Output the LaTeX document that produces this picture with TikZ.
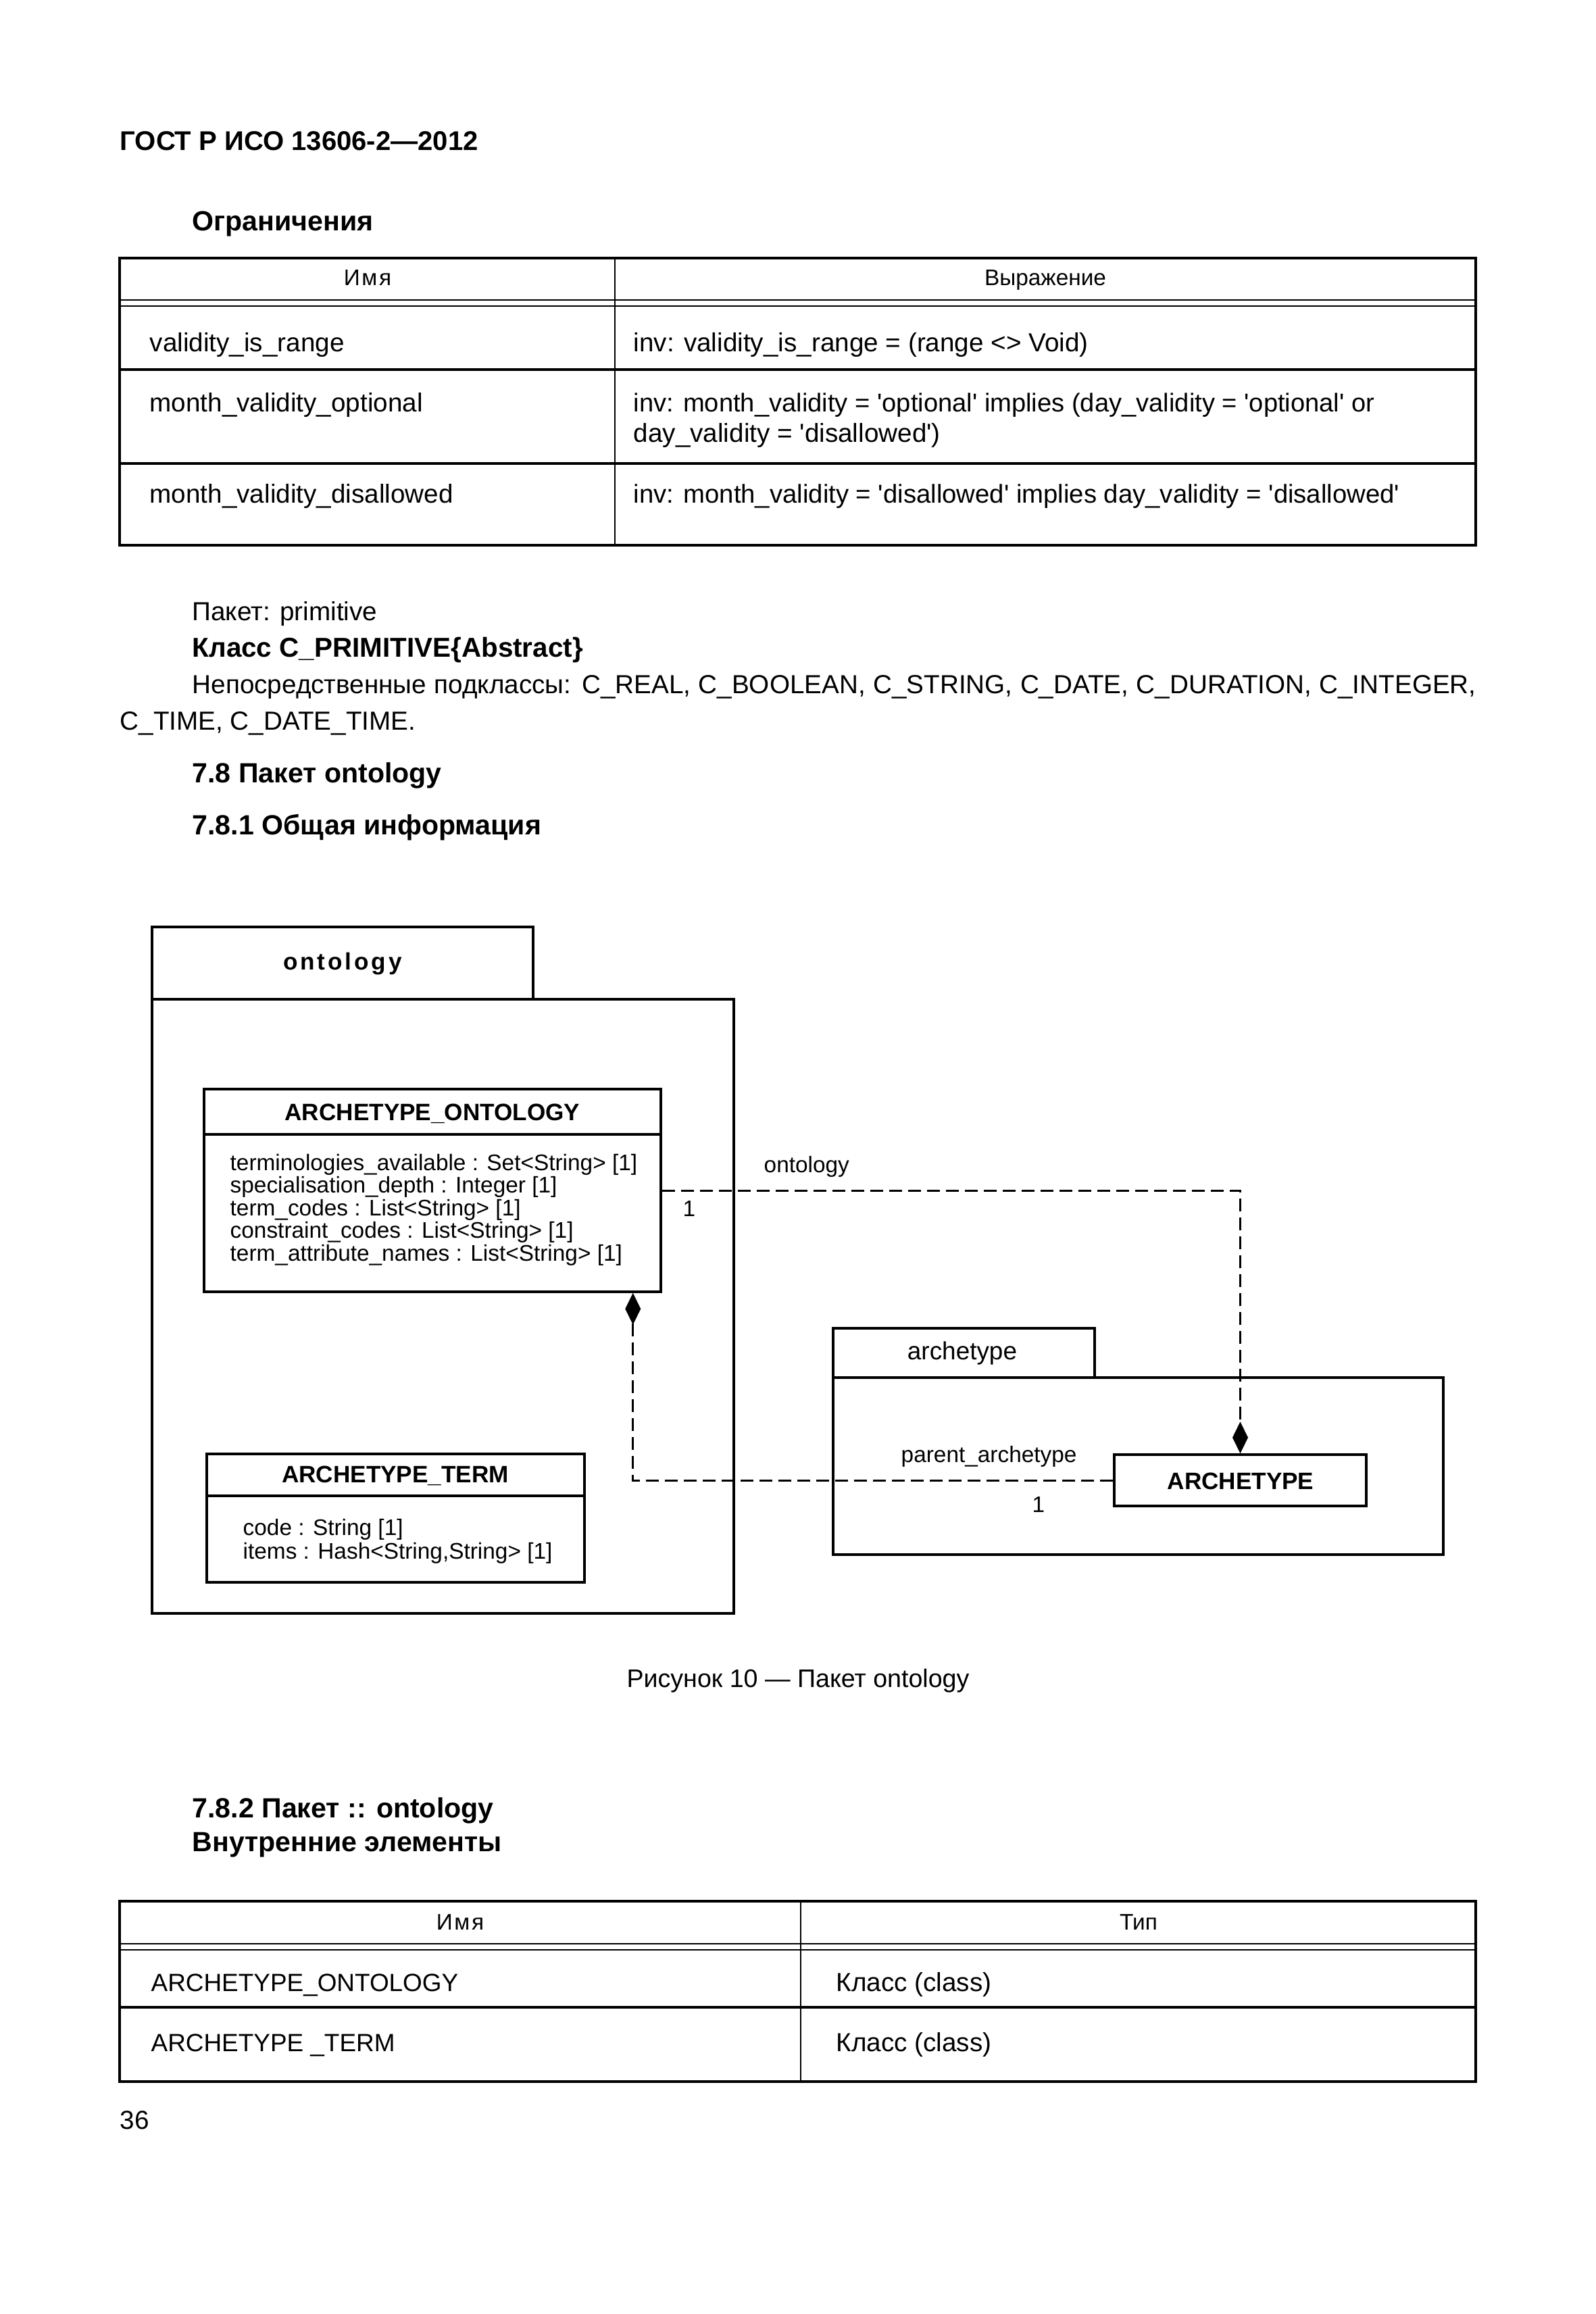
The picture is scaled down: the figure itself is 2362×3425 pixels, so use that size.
\documentclass[tikz,border=0pt]{standalone}
\usepackage{fontspec}
\setmainfont{Liberation Sans}
\usetikzlibrary{arrows.meta,fit}
\newcommand\fsz[1]{\fontsize{#1}{#1}\selectfont}
\newcommand\sq{\textquotesingle}
\begin{document}
\begin{tikzpicture}[x=0.1mm,y=-0.1mm,
  txt/.style={inner sep=0pt, anchor=base west, font=\fsz{11pt}},
  btxt/.style={inner sep=0pt, anchor=base west, font=\fsz{11.7pt}\bfseries},
  hdr/.style={inner sep=0pt, anchor=base, font=\fsz{9.5pt}},
  tblk/.style={line width=0.38mm},
  tbln/.style={line width=0.2mm},
  pkg/.style={draw, line width=0.4mm, inner sep=0pt},
  cls/.style={draw, line width=0.35mm, inner sep=0pt},
  clsline/.style={line width=0.35mm},
  dtxt/.style={inner sep=0pt, anchor=base west, font=\fsz{9.5pt}},
  ctitle/.style={inner sep=0pt, anchor=base, font=\fsz{10pt}\bfseries},
  conn/.style={line width=0.3mm, dash pattern=on 1.9mm off 0.9mm,
    -{Diamond[length=4.7mm,width=2.3mm]}}
]
\fill[white] (0,0) rectangle (2362,3425);
\useasboundingbox (0,0) rectangle (2362,3425);

% header
\node[btxt, font=\fsz{11.4pt}\bfseries] (gost) at (177,222) {ГОСТ Р ИСО 13606-2—2012};
\node[btxt] (ogr) at (284,341) {Ограничения};

% table 1
\draw[tblk] (177,382) rectangle (2184,807);
\draw[tbln] (177,444) -- (2184,444);
\draw[tbln] (177,453) -- (2184,453);
\draw[tblk] (177,547) -- (2184,547);
\draw[tblk] (177,686) -- (2184,686);
\draw[tbln] (910,382) -- (910,807);
\node[hdr] (t1h1) at (544,422) {\addfontfeature{LetterSpace=8}Имя};
\node[hdr] (t1h2) at (1547,422) {Выражение};
\node[txt] (r1a) at (221,520) {validity\_is\_range};
\node[txt] (r1b) at (937,520) {inv: validity\_is\_range = (range <> Void)};
\node[txt] (r2a) at (221,609) {month\_validity\_optional};
\node[txt, font=\fsz{10.85pt}] (r2b) at (937,609) {inv: month\_validity = \sq optional\sq{} implies (day\_validity = \sq optional\sq{} or};
\node[txt] (r2c) at (937,654) {day\_validity = \sq disallowed\sq)};
\node[txt] (r3a) at (221,744) {month\_validity\_disallowed};
\node[txt, font=\fsz{10.9pt}] (r3b) at (937,744) {inv: month\_validity = \sq disallowed\sq{} implies day\_validity = \sq disallowed\sq};

% text block
\node[txt] (pak) at (284,918) {Пакет: primitive};
\node[btxt, font=\fsz{11.5pt}\bfseries] (kl) at (284,972) {Класс C\_PRIMITIVE\{Abstract\}};
\node[txt] (np1) at (284,1026) {\makebox[190mm][s]{Непосредственные подклассы: C\_REAL, C\_BOOLEAN, C\_STRING, C\_DATE, C\_DURATION, C\_INTEGER,}};
\node[txt] (np2) at (177,1080) {C\_TIME, C\_DATE\_TIME.};
\node[btxt] (s78) at (284,1158) {7.8 Пакет ontology};
\node[btxt] (s781) at (284,1235) {7.8.1 Общая информация};

% ontology package
\node[pkg, fit={(225,1372)(789,1479)}] (ontab) {};
\node[pkg, fit={(225,1479)(1086,2388)}] (onbody) {};
\node[inner sep=0pt, anchor=base, font=\fsz{10pt}\bfseries\addfontfeature{LetterSpace=11}] (ontl) at (507,1435) {ontology};

% ARCHETYPE_ONTOLOGY
\node[cls, fit={(302,1612)(978,1912)}] (AO) {};
\draw[clsline] (302,1679) -- (978,1679);
\node[ctitle] (AOt) at (640,1658) {ARCHETYPE\_ONTOLOGY};
\node[dtxt] (ao1) at (340,1732) {terminologies\_available : Set<String> [1]};
\node[dtxt] (ao2) at (340,1765) {specialisation\_depth : Integer [1]};
\node[dtxt] (ao3) at (340,1799) {term\_codes : List<String> [1]};
\node[dtxt] (ao4) at (340,1832) {constraint\_codes : List<String> [1]};
\node[dtxt] (ao5) at (340,1866) {term\_attribute\_names : List<String> [1]};

% ARCHETYPE_TERM
\node[cls, fit={(306,2152)(865,2342)}] (AT) {};
\draw[clsline] (306,2214) -- (865,2214);
\node[ctitle] (ATt) at (585,2194) {ARCHETYPE\_TERM};
\node[dtxt] (at1) at (359,2272) {code : String [1]};
\node[dtxt] (at2) at (359,2307) {items : Hash<String,String> [1]};

% archetype package
\node[pkg, fit={(1233,1966)(1620,2039)}] (artab) {};
\node[pkg, fit={(1233,2039)(2136,2301)}] (arbody) {};
\node[inner sep=0pt, anchor=base, font=\fsz{10.5pt}] (artl) at (1424,2012) {archetype};

% ARCHETYPE
\node[cls, fit={(1649,2153)(2022,2229)}] (ARCH) {};
\node[ctitle] (ARCHt) at (1836,2204) {ARCHETYPE};

% connectors
\draw[conn] (AO.east) -| (ARCH.north);
\draw[conn] (ARCH.west) -| ([xshift=-4.3mm]AO.south east);
\node[dtxt] (lont) at (1130,1735) {ontology};
\node[dtxt] (lone1) at (1010,1800) {1};
\node[dtxt] (lpar) at (1333,2164) {parent\_archetype};
\node[dtxt] (lone2) at (1527,2238) {1};

% caption
\node[inner sep=0pt, anchor=base, font=\fsz{10.7pt}] (cap) at (1181,2497) {Рисунок 10 — Пакет ontology};

% section 7.8.2
\node[btxt] (s782) at (284,2690) {7.8.2 Пакет :: ontology};
\node[btxt] (vnut) at (284,2740) {Внутренние элементы};

% table 2
\draw[tblk] (177,2814) rectangle (2184,3081);
\draw[tbln] (177,2877) -- (2184,2877);
\draw[tbln] (177,2886) -- (2184,2886);
\draw[tblk] (177,2971) -- (2184,2971);
\draw[tbln] (1185,2814) -- (1185,3081);
\node[hdr] (t2h1) at (681,2856) {\addfontfeature{LetterSpace=8}Имя};
\node[hdr] (t2h2) at (1685,2856) {Тип};
\node[txt, font=\fsz{10.5pt}] (q1a) at (223,2947) {ARCHETYPE\_ONTOLOGY};
\node[txt] (q1b) at (1237,2947) {Класс (class)};
\node[txt, font=\fsz{10.5pt}] (q2a) at (223,3036) {ARCHETYPE \_TERM};
\node[txt] (q2b) at (1237,3036) {Класс (class)};

\node[txt] (pnum) at (177,3151) {36};
\end{tikzpicture}
\end{document}
